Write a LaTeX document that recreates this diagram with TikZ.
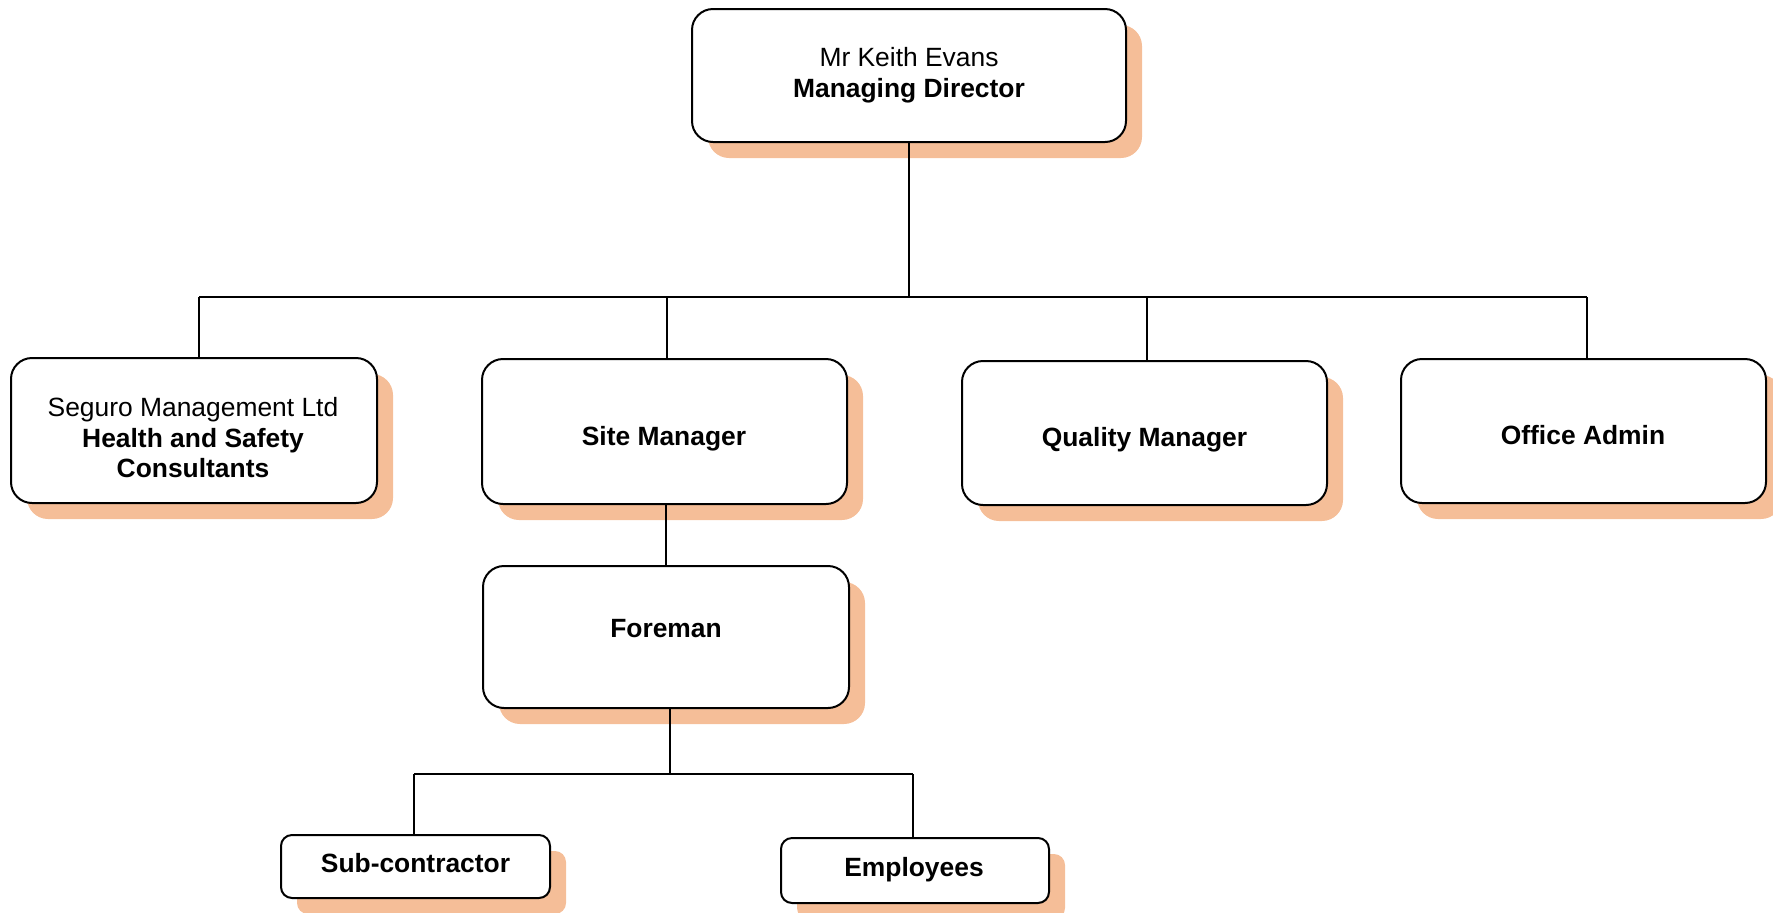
\documentclass[tikz,border=0pt]{standalone}
\usepackage{fontspec}
\setmainfont{Liberation Sans}
\usetikzlibrary{shadows}
\definecolor{shad}{RGB}{245,190,152}
\begin{document}
\begin{tikzpicture}[x=0.5pt,y=-0.5pt,
  box/.style={draw=black, line width=1pt, fill=white, rounded corners=10.5pt,
    general shadow={fill=shad, shadow xshift=8pt, shadow yshift=-8pt}, inner sep=0pt},
  smallbox/.style={box, rounded corners=5.5pt},
  txt/.style={anchor=base, inner sep=0pt, font=\fontsize{13.2}{15.25}\selectfont},
  btxt/.style={txt, font=\fontsize{13.2}{15.25}\selectfont\bfseries},
  conn/.style={line width=0.9pt}]
\useasboundingbox (0,0) rectangle (1773,912);
% boxes
\node[box, minimum width=217pt, minimum height=66.5pt] (md) at (909,75.5) {};
\node[box, minimum width=183pt, minimum height=72.5pt] (seg) at (194,430.5) {};
\node[box, minimum width=182.5pt, minimum height=72.5pt] (site) at (664.5,431.5) {};
\node[box, minimum width=182.5pt, minimum height=72pt] (qual) at (1144.5,433) {};
\node[box, minimum width=182.5pt, minimum height=72pt] (off) at (1583.5,431) {};
\node[box, minimum width=183pt, minimum height=71pt] (fore) at (666,637) {};
\node[smallbox, minimum width=134.5pt, minimum height=31.5pt] (sub) at (415.5,866.5) {};
\node[smallbox, minimum width=134pt, minimum height=32.5pt] (emp) at (915,870.5) {};
% texts
\node[txt] (mdA) at (909,66) {Mr Keith Evans};
\node[btxt] (mdB) at (909,97) {Managing Director};
\node[txt] (segA) at (193,416) {Seguro Management Ltd};
\node[btxt] (segB) at (193,447) {Health and Safety};
\node[btxt] (segC) at (193,477) {Consultants};
\node[btxt] (siteT) at (664,445) {Site Manager};
\node[btxt] (qualT) at (1144.5,446) {Quality Manager};
\node[btxt] (offT) at (1583,444) {Office Admin};
\node[btxt] (foreT) at (666,637.7) {Foreman};
\node[btxt] (subT) at (415.5,872.7) {Sub-contractor};
\node[btxt] (empT) at (914,876) {Employees};
% connectors
\coordinate (b1) at (199,297);
\coordinate (b2) at (667,297);
\coordinate (b3) at (1147,297);
\coordinate (b4) at (1587,297);
\draw[conn] (md.south) -- (md.south |- b1);
\draw[conn] (b1) -- (b4);
\draw[conn] (b1) -- (b1 |- seg.north);
\draw[conn] (b2) -- (b2 |- site.north);
\draw[conn] (b3) -- (b3 |- qual.north);
\draw[conn] (b4) -- (b4 |- off.north);
\draw[conn] (fore.north |- site.south) -- (fore.north);
\coordinate (c0) at (670,774);
\coordinate (c1) at (414,774);
\coordinate (c2) at (913,774);
\draw[conn] (c0 |- fore.south) -- (c0);
\draw[conn] (c1) -- (c2);
\draw[conn] (c1) -- (c1 |- sub.north);
\draw[conn] (c2) -- (c2 |- emp.north);
\end{tikzpicture}
\end{document}
